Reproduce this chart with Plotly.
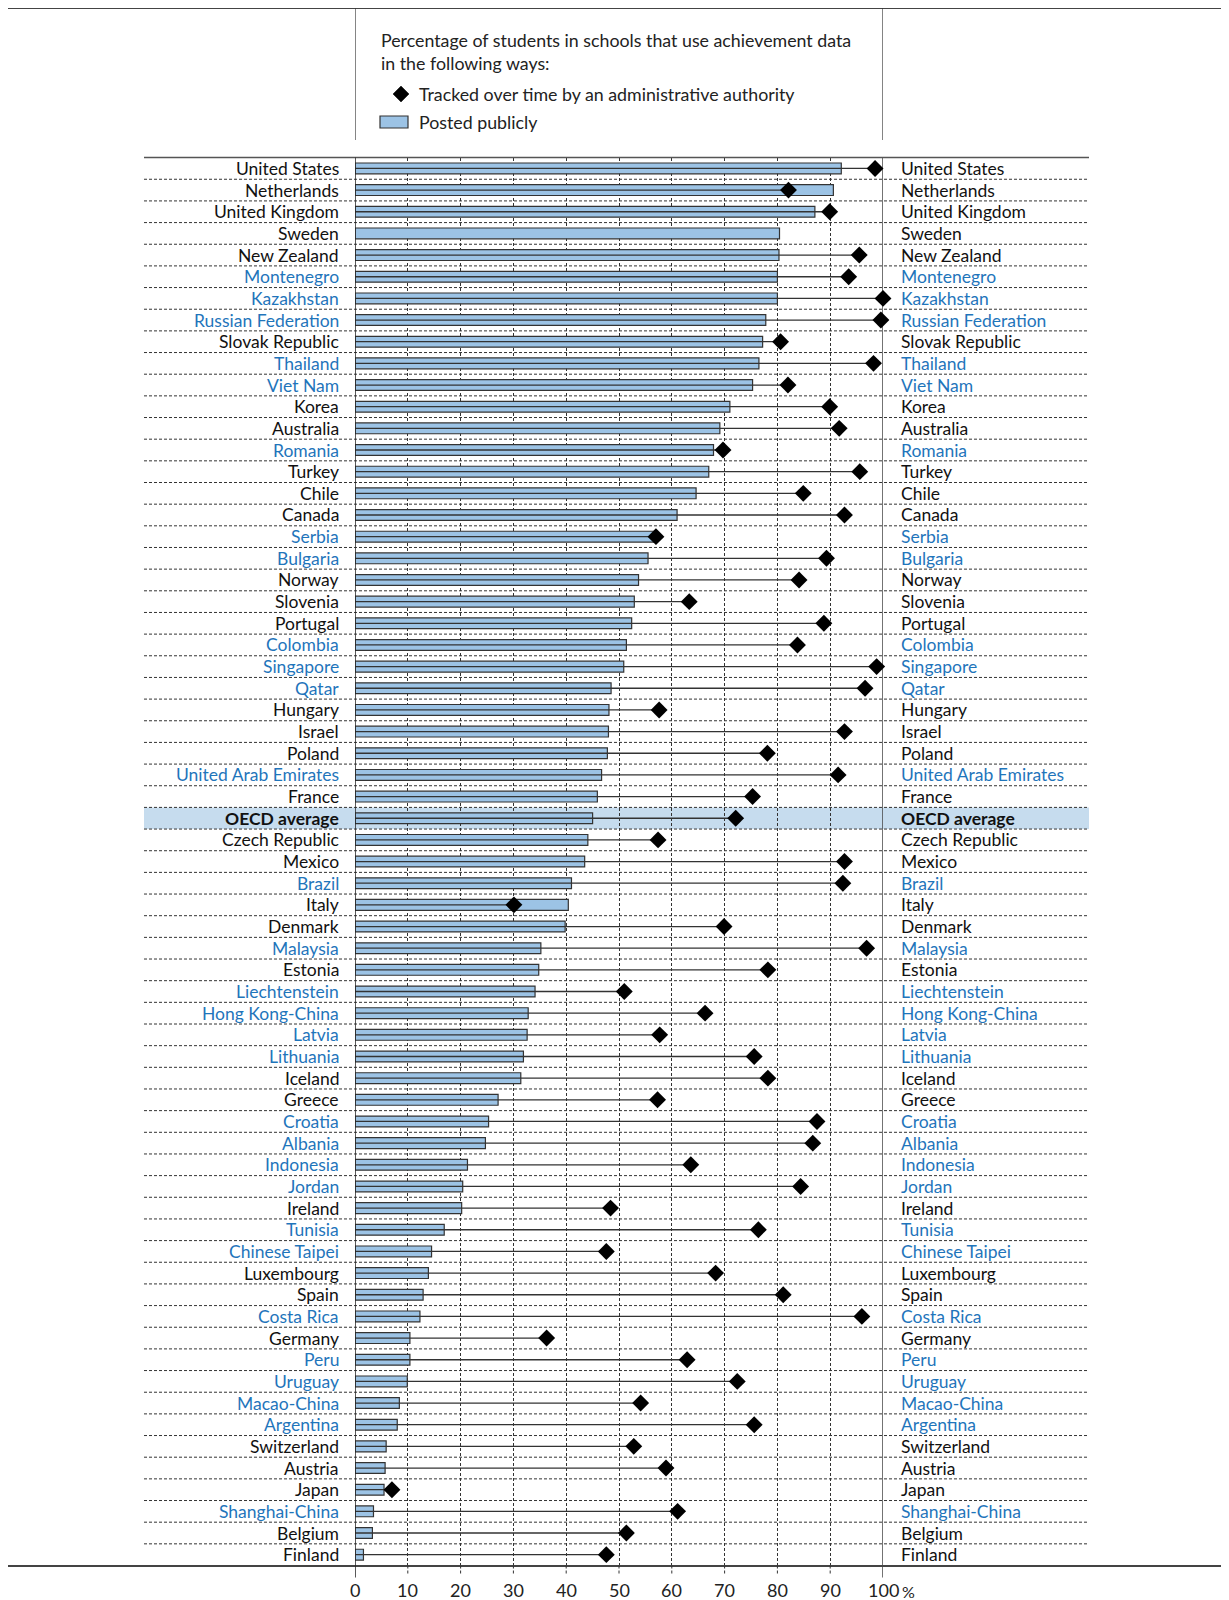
import plotly.graph_objects as go

countries = ["United States", "Netherlands", "United Kingdom", "Sweden", "New Zealand", "Montenegro",
             "Kazakhstan", "Russian Federation", "Slovak Republic", "Thailand", "Viet Nam", "Korea",
             "Australia", "Romania", "Turkey", "Chile", "Canada", "Serbia", "Bulgaria", "Norway",
             "Slovenia", "Portugal", "Colombia", "Singapore", "Qatar", "Hungary", "Israel", "Poland",
             "United Arab Emirates", "France", "OECD average", "Czech Republic", "Mexico", "Brazil",
             "Italy", "Denmark", "Malaysia", "Estonia", "Liechtenstein", "Hong Kong-China", "Latvia",
             "Lithuania", "Iceland", "Greece", "Croatia", "Albania", "Indonesia", "Jordan", "Ireland",
             "Tunisia", "Chinese Taipei", "Luxembourg", "Spain", "Costa Rica", "Germany", "Peru",
             "Uruguay", "Macao-China", "Argentina", "Switzerland", "Austria", "Japan", "Shanghai-China",
             "Belgium", "Finland"]

posted_publicly = [92.1, 90.6, 87.1, 80.4, 80.3, 80.0, 80.0, 77.8, 77.2, 76.5, 75.3, 71.0, 69.1,
                   67.9, 67.0, 64.6, 61.0, 56.8, 55.5, 53.7, 52.9, 52.4, 51.4, 50.9, 48.5, 48.1,
                   48.0, 47.8, 46.7, 45.9, 45.0, 44.1, 43.5, 41.0, 40.4, 39.8, 35.2, 34.8, 34.1,
                   32.8, 32.6, 31.9, 31.4, 27.1, 25.3, 24.7, 21.3, 20.4, 20.2, 16.9, 14.5, 13.9,
                   12.9, 12.3, 10.4, 10.4, 9.9, 8.4, 8.0, 5.9, 5.7, 5.5, 3.5, 3.3, 1.6]

tracked = [98.5, 82.1, 89.9, None, 95.5, 93.5, 100.0, 99.6, 80.6, 98.2, 82.0, 89.9, 91.7,
           69.7, 95.6, 84.9, 92.7, 57.0, 89.3, 84.1, 63.3, 88.8, 83.8, 98.8, 96.6, 57.6,
           92.7, 78.1, 91.5, 75.3, 72.1, 57.4, 92.7, 92.4, 30.1, 69.9, 96.9, 78.2, 51.0,
           66.3, 57.7, 75.6, 78.2, 57.3, 87.5, 86.7, 63.6, 84.4, 48.4, 76.4, 47.6, 68.3,
           81.1, 96.0, 36.3, 62.9, 72.4, 54.1, 75.6, 52.8, 58.9, 7.0, 61.1, 51.4, 47.6]

partners = ["Montenegro", "Kazakhstan", "Russian Federation", "Thailand", "Viet Nam", "Romania",
            "Serbia", "Bulgaria", "Colombia", "Singapore", "Qatar", "United Arab Emirates", "Brazil",
            "Malaysia", "Liechtenstein", "Hong Kong-China", "Latvia", "Lithuania", "Croatia",
            "Albania", "Indonesia", "Jordan", "Tunisia", "Chinese Taipei", "Costa Rica", "Peru",
            "Uruguay", "Macao-China", "Argentina", "Shanghai-China"]

x_ticks = [0, 10, 20, 30, 40, 50, 60, 70, 80, 90, 100]
legend_title = "Percentage of students in schools that use achievement data<br>in the following ways:"
legend_tracked = "Tracked over time by an administrative authority"
legend_posted = "Posted publicly"

# page body has an 8px margin, so the figure is drawn 8px smaller and every
# page coordinate below is shifted by that offset
OFF = 8
W, H = 1229 - OFF, 1600 - OFF
FONT = "Lato, 'Open Sans', sans-serif"
BLUE = "#1f75bb"
BAR_FILL = "#9cc3e5"

def px_x(p):
    return (p - OFF) / W

def px_y(p):
    return 1 - (p - OFF) / H

X0, X100 = 355, 883
Y_TOP, Y_BOT = 157.6, 1565.5
n = len(countries)

fig = go.Figure()

# bars
fig.add_trace(go.Bar(
    x=posted_publicly, y=countries, orientation="h", width=0.5,
    marker=dict(color=BAR_FILL, line=dict(color="#333333", width=1.2)),
    showlegend=False, hoverinfo="x+y"))

# connecting lines from 0 to tracked value
lx, ly = [], []
for c, t in zip(countries, tracked):
    if t is None:
        continue
    lx += [0, t, None]
    ly += [c, c, None]
fig.add_trace(go.Scatter(x=lx, y=ly, mode="lines", line=dict(color="#333333", width=1.3),
                         showlegend=False, hoverinfo="skip", cliponaxis=False))

# diamonds
dx = [t for t in tracked if t is not None]
dy = [c for c, t in zip(countries, tracked) if t is not None]
fig.add_trace(go.Scatter(x=dx, y=dy, mode="markers", cliponaxis=False,
                         marker=dict(symbol="diamond", size=13, color="black"),
                         showlegend=False))

shapes = []
annotations = []

# OECD average highlight
oi = countries.index("OECD average")
shapes.append(dict(type="rect", xref="paper", yref="y", x0=px_x(144), x1=px_x(1089),
                   y0=oi - 0.5, y1=oi + 0.5, fillcolor="#c6dcee", line=dict(width=0), layer="below"))

# row separators
for i in range(n - 1):
    shapes.append(dict(type="line", xref="paper", yref="y", x0=px_x(144), x1=px_x(1089),
                       y0=i + 0.5, y1=i + 0.5, line=dict(color="#333333", width=1, dash="3px,2px"),
                       layer="below"))

# top border of the chart block
shapes.append(dict(type="line", xref="paper", yref="paper", x0=px_x(144), x1=px_x(1089),
                   y0=px_y(Y_TOP), y1=px_y(Y_TOP), line=dict(color="#555555", width=1.5)))
# bottom long line
shapes.append(dict(type="line", xref="paper", yref="paper", x0=px_x(8), x1=1,
                   y0=px_y(Y_BOT + 0.5), y1=px_y(Y_BOT + 0.5), line=dict(color="#444444", width=2)))
# top long line
shapes.append(dict(type="line", xref="paper", yref="paper", x0=px_x(8), x1=1,
                   y0=px_y(8), y1=px_y(8), line=dict(color="#444444", width=2)))

# gridline extensions below the bottom line
for v in x_ticks[1:-1]:
    shapes.append(dict(type="line", xref="x", yref="paper", x0=v, x1=v,
                       y0=px_y(Y_BOT), y1=px_y(Y_BOT + 10),
                       line=dict(color="#333333", width=1, dash="3px,2px")))

# 0 and 100 lines (chart) and legend box verticals
shapes.append(dict(type="line", xref="x", yref="paper", x0=0, x1=0,
                   y0=px_y(Y_TOP), y1=px_y(Y_BOT + 12), line=dict(color="#222222", width=1.5)))
shapes.append(dict(type="line", xref="x", yref="paper", x0=100, x1=100, layer="below",
                   y0=px_y(Y_TOP), y1=px_y(Y_BOT + 12), line=dict(color="#444444", width=1.5)))
for v in (0, 100):
    shapes.append(dict(type="line", xref="x", yref="paper", x0=v, x1=v,
                       y0=px_y(8), y1=px_y(140), line=dict(color="#333333", width=1.2)))

# legend symbols
shapes.append(dict(type="rect", xref="paper", yref="paper", x0=px_x(380), x1=px_x(408),
                   y0=px_y(116), y1=px_y(128), fillcolor=BAR_FILL, line=dict(color="#333333", width=1.2)))
shapes.append(dict(type="path", xref="paper", yref="paper",
                   path=f"M {px_x(401)},{px_y(86)} L {px_x(409)},{px_y(94)} L {px_x(401)},{px_y(102)} L {px_x(393)},{px_y(94)} Z",
                   fillcolor="black", line=dict(color="black", width=0.5)))

LEG_FONT = dict(family=FONT, size=17.8, color="#222222")
annotations.append(dict(xref="paper", yref="paper", x=px_x(379), y=px_y(27), xanchor="left", yanchor="top",
                        text=legend_title, showarrow=False, align="left", font=LEG_FONT))
annotations.append(dict(xref="paper", yref="paper", x=px_x(417), y=px_y(94), xanchor="left", yanchor="middle",
                        text=legend_tracked, showarrow=False, font=LEG_FONT))
annotations.append(dict(xref="paper", yref="paper", x=px_x(417), y=px_y(122), xanchor="left", yanchor="middle",
                        text=legend_posted, showarrow=False, font=LEG_FONT))

# country labels both sides
for c in countries:
    col = BLUE if c in partners else "#111111"
    txt = f"<b>{c}</b>" if c == "OECD average" else c
    annotations.append(dict(xref="paper", yref="y", x=px_x(341), y=c, xanchor="right", yanchor="middle",
                            text=txt, showarrow=False, font=dict(family=FONT, size=17.5, color=col)))
    annotations.append(dict(xref="paper", yref="y", x=px_x(899), y=c, xanchor="left", yanchor="middle",
                            text=txt, showarrow=False, font=dict(family=FONT, size=17.5, color=col)))

# x tick labels
for v in x_ticks:
    annotations.append(dict(xref="x", yref="paper", x=v, y=px_y(1590), xanchor="center", yanchor="middle",
                            text=str(v), showarrow=False, font=dict(family=FONT, size=18, color="#222222")))
annotations.append(dict(xref="x", yref="paper", x=100, y=px_y(1591), xanchor="left", yanchor="middle",
                        xshift=17, text="%", showarrow=False, font=dict(family=FONT, size=16, color="#222222")))

fig.update_layout(
    width=W, height=H, margin=dict(l=0, r=0, t=0, b=0),
    paper_bgcolor="white", plot_bgcolor="rgba(0,0,0,0)",
    bargap=0.5, showlegend=False,
    shapes=shapes, annotations=annotations,
    xaxis=dict(domain=[px_x(X0), px_x(X100)], range=[0, 100], tickvals=x_ticks[1:-1],
               showticklabels=False, showgrid=True, gridcolor="#333333", griddash="3px,2px",
               gridwidth=1, zeroline=False, showline=False, ticks=""),
    yaxis=dict(domain=[px_y(Y_BOT), px_y(Y_TOP)], type="category", categoryarray=countries,
               categoryorder="array", range=[n - 0.5, -0.5], showticklabels=False,
               showgrid=False, zeroline=False, showline=False, ticks=""),
)

fig.write_html("out.html")
